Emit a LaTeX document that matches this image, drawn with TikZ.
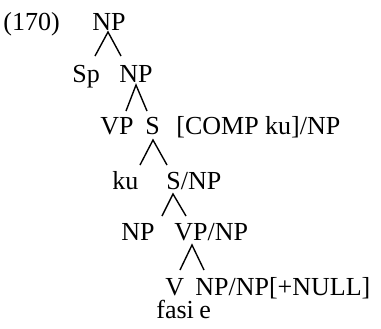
\documentclass[tikz,border=0pt]{standalone}
\usepackage{fontspec}
\setmainfont{Liberation Serif}
\usetikzlibrary{calc}
\tikzset{
	cat/.style ={anchor=base west, inner sep=0pt},
	leg/.style ={line width=0.7pt},
}
\begin{document}
\begin{tikzpicture}[x=0.5pt, y=-0.5pt, every node/.style={font=\fontsize{13}{15}\selectfont}]
	\useasboundingbox (0,0) rectangle (381,328);
	\node[cat] (ex) at (3,30) {(170)};
	\node[cat] (np) at (92,30) {NP};
	\node[cat] (sp) at (72,82) {Sp};
	\node[cat] (npa) at (119,82) {NP};
	\node[cat] (vp) at (100,134) {VP};
	\node[cat] (s) at (145,134) {S};
	\node[cat] (comp) at (176,134) {[COMP ku]/NP};
	\node[cat] (ku) at (112,189) {ku};
	\node[cat] (snp) at (166,189) {S/NP};
	\node[cat] (npb) at (121,240) {NP};
	\node[cat] (vpnp) at (174,240) {VP/NP};
	\node[cat] (v) at (165,295) {V};
	\node[cat] (npnp) at (195,295) {NP/NP[+NULL]};
	\node[cat] (fasi) at (156,318) {fasi};
	\node[cat] (e) at (199,318) {e};
	\draw[leg] ($(sp.base west)+(23,-26)$) -- ($(np.base west)+(16,2)$) -- ($(npa.base west)+(2,-26)$);
	\draw[leg] ($(vp.base west)+(26,-23)$) -- ($(npa.base west)+(17,3)$) -- ($(s.base west)+(2,-23)$);
	\draw[leg] ($(ku.base west)+(28,-24)$) -- ($(s.base west)+(8,6)$) -- ($(snp.base west)+(1,-24)$);
	\draw[leg] ($(npb.base west)+(41,-24)$) -- ($(snp.base west)+(7,5)$) -- ($(vpnp.base west)+(12,-24)$);
	\draw[leg] ($(v.base west)+(15,-25)$) -- ($(vpnp.base west)+(18,5)$) -- ($(npnp.base west)+(9,-25)$);
\end{tikzpicture}
\end{document}
